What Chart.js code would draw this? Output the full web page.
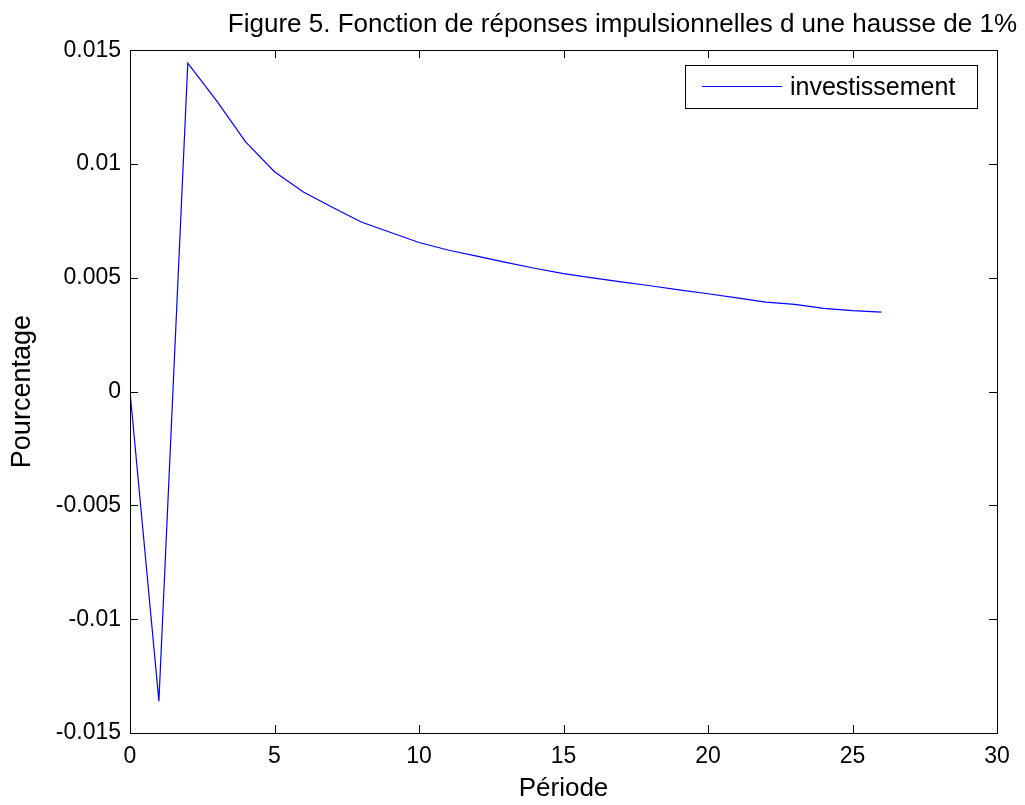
<!DOCTYPE html>
<html>
<head>
<meta charset="utf-8">
<script src="https://cdn.jsdelivr.net/npm/chart.js@4/dist/chart.umd.min.js"></script>
<style>
  html, body { margin: 0; padding: 0; background: #fff; }
  #wrap { width: 1025px; height: 805px; }
</style>
</head>
<body>
<div id="wrap"><canvas id="myChart" width="1025" height="805"></canvas></div>
<script>
// Data
const periods = [0, 1, 2, 3, 4, 5, 6, 7, 8, 9, 10, 11, 12, 13, 14, 15, 16, 17, 18, 19, 20, 21, 22, 23, 24, 25, 26];
const investissement = [0, -0.0136, 0.01443, 0.01277, 0.01097, 0.00966, 0.00877, 0.0081, 0.00745, 0.007, 0.00655,
    0.00622, 0.00595, 0.00568, 0.00542, 0.00518, 0.005, 0.00482, 0.00465, 0.00447, 0.0043, 0.00412, 0.00393,
    0.00383, 0.00366, 0.00356, 0.00349];
const xTicks = [0, 5, 10, 15, 20, 25, 30];
const yTicks = [-0.015, -0.01, -0.005, 0, 0.005, 0.01, 0.015];
const yTickLabels = ['-0.015', '-0.01', '-0.005', '0', '0.005', '0.01', '0.015'];

const FONT = 'Arial, "Liberation Sans", sans-serif';

// MATLAB style box with inward ticks
const boxPlugin = {
    id: 'boxTicks',
    afterDraw(chart) {
        const { ctx, chartArea: a, scales } = chart;
        const len = 8;
        ctx.save();
        ctx.strokeStyle = '#000';
        ctx.lineWidth = 1;
        ctx.beginPath();
        xTicks.forEach(v => {
            const px = Math.round(scales.x.getPixelForValue(v)) + 0.5;
            ctx.moveTo(px, a.bottom); ctx.lineTo(px, a.bottom - len);
            ctx.moveTo(px, a.top); ctx.lineTo(px, a.top + len);
        });
        yTicks.forEach(v => {
            const py = Math.round(scales.y.getPixelForValue(v)) + 0.5;
            ctx.moveTo(a.left, py); ctx.lineTo(a.left + len, py);
            ctx.moveTo(a.right, py); ctx.lineTo(a.right - len, py);
        });
        ctx.stroke();
        ctx.strokeRect(Math.round(a.left) + 0.5, Math.round(a.top) + 0.5,
            Math.round(a.right - a.left), Math.round(a.bottom - a.top));

        // legend box
        const ds = chart.data.datasets[0];
        const bx = 685, by = 65, bw = 292, bh = 43;
        ctx.fillStyle = '#fff';
        ctx.fillRect(bx, by, bw, bh);
        ctx.strokeStyle = '#000';
        ctx.strokeRect(bx + 0.5, by + 0.5, bw, bh);
        ctx.strokeStyle = ds.borderColor;
        ctx.beginPath();
        ctx.moveTo(702, 86.5); ctx.lineTo(782, 86.5);
        ctx.stroke();
        ctx.fillStyle = '#000';
        ctx.font = '25px ' + FONT;
        ctx.textBaseline = 'middle';
        ctx.textAlign = 'left';
        ctx.fillText(ds.label, 790, 88);
        ctx.restore();
    }
};

const ctx = document.getElementById('myChart').getContext('2d');
new Chart(ctx, {
    type: 'line',
    data: {
        labels: periods,
        datasets: [{
            label: 'investissement',
            data: periods.map((p, i) => ({ x: p, y: investissement[i] })),
            borderColor: '#0000ff',
            borderWidth: 1.2,
            pointRadius: 0,
            tension: 0,
            fill: false
        }]
    },
    options: {
        responsive: false,
        animation: false,
        layout: { padding: { left: 0, right: 8, top: 0, bottom: 0 } },
        plugins: {
            legend: { display: false },
            tooltip: { enabled: false },
            title: {
                display: true,
                text: 'Figure 5. Fonction de réponses impulsionnelles d une hausse de 1%',
                align: 'end',
                color: '#000',
                font: { family: FONT, size: 26, weight: 'normal' },
                padding: { top: 9, bottom: 10 }
            }
        },
        scales: {
            x: {
                type: 'linear',
                min: 0,
                max: 30,
                afterBuildTicks: s => { s.ticks = xTicks.map(v => ({ value: v })); },
                afterFit: s => { s.height = 72; },
                grid: { display: false, drawTicks: false },
                border: { display: false },
                ticks: {
                    color: '#000',
                    padding: 10,
                    font: { family: FONT, size: 23 },
                    callback: v => String(v)
                },
                title: {
                    display: true,
                    text: 'Période',
                    color: '#000',
                    font: { family: FONT, size: 26 },
                    padding: { top: 1, bottom: 1 }
                }
            },
            y: {
                type: 'linear',
                min: -0.015,
                max: 0.015,
                afterBuildTicks: s => { s.ticks = yTicks.map(v => ({ value: v })); },
                afterFit: s => { s.width = 130; },
                grid: { display: false, drawTicks: false },
                border: { display: false },
                ticks: {
                    color: '#000',
                    padding: 9,
                    font: { family: FONT, size: 23 },
                    callback: (v, i) => yTickLabels[i]
                },
                title: {
                    display: true,
                    text: 'Pourcentage',
                    color: '#000',
                    font: { family: FONT, size: 27 },
                    padding: { top: 6, bottom: 6 }
                }
            },
            yRight: {
                type: 'linear',
                position: 'right',
                display: true,
                afterFit: s => { s.width = 20; },
                grid: { display: false, drawTicks: false },
                border: { display: false },
                ticks: { display: false }
            }
        }
    },
    plugins: [boxPlugin]
});
</script>
</body>
</html>
